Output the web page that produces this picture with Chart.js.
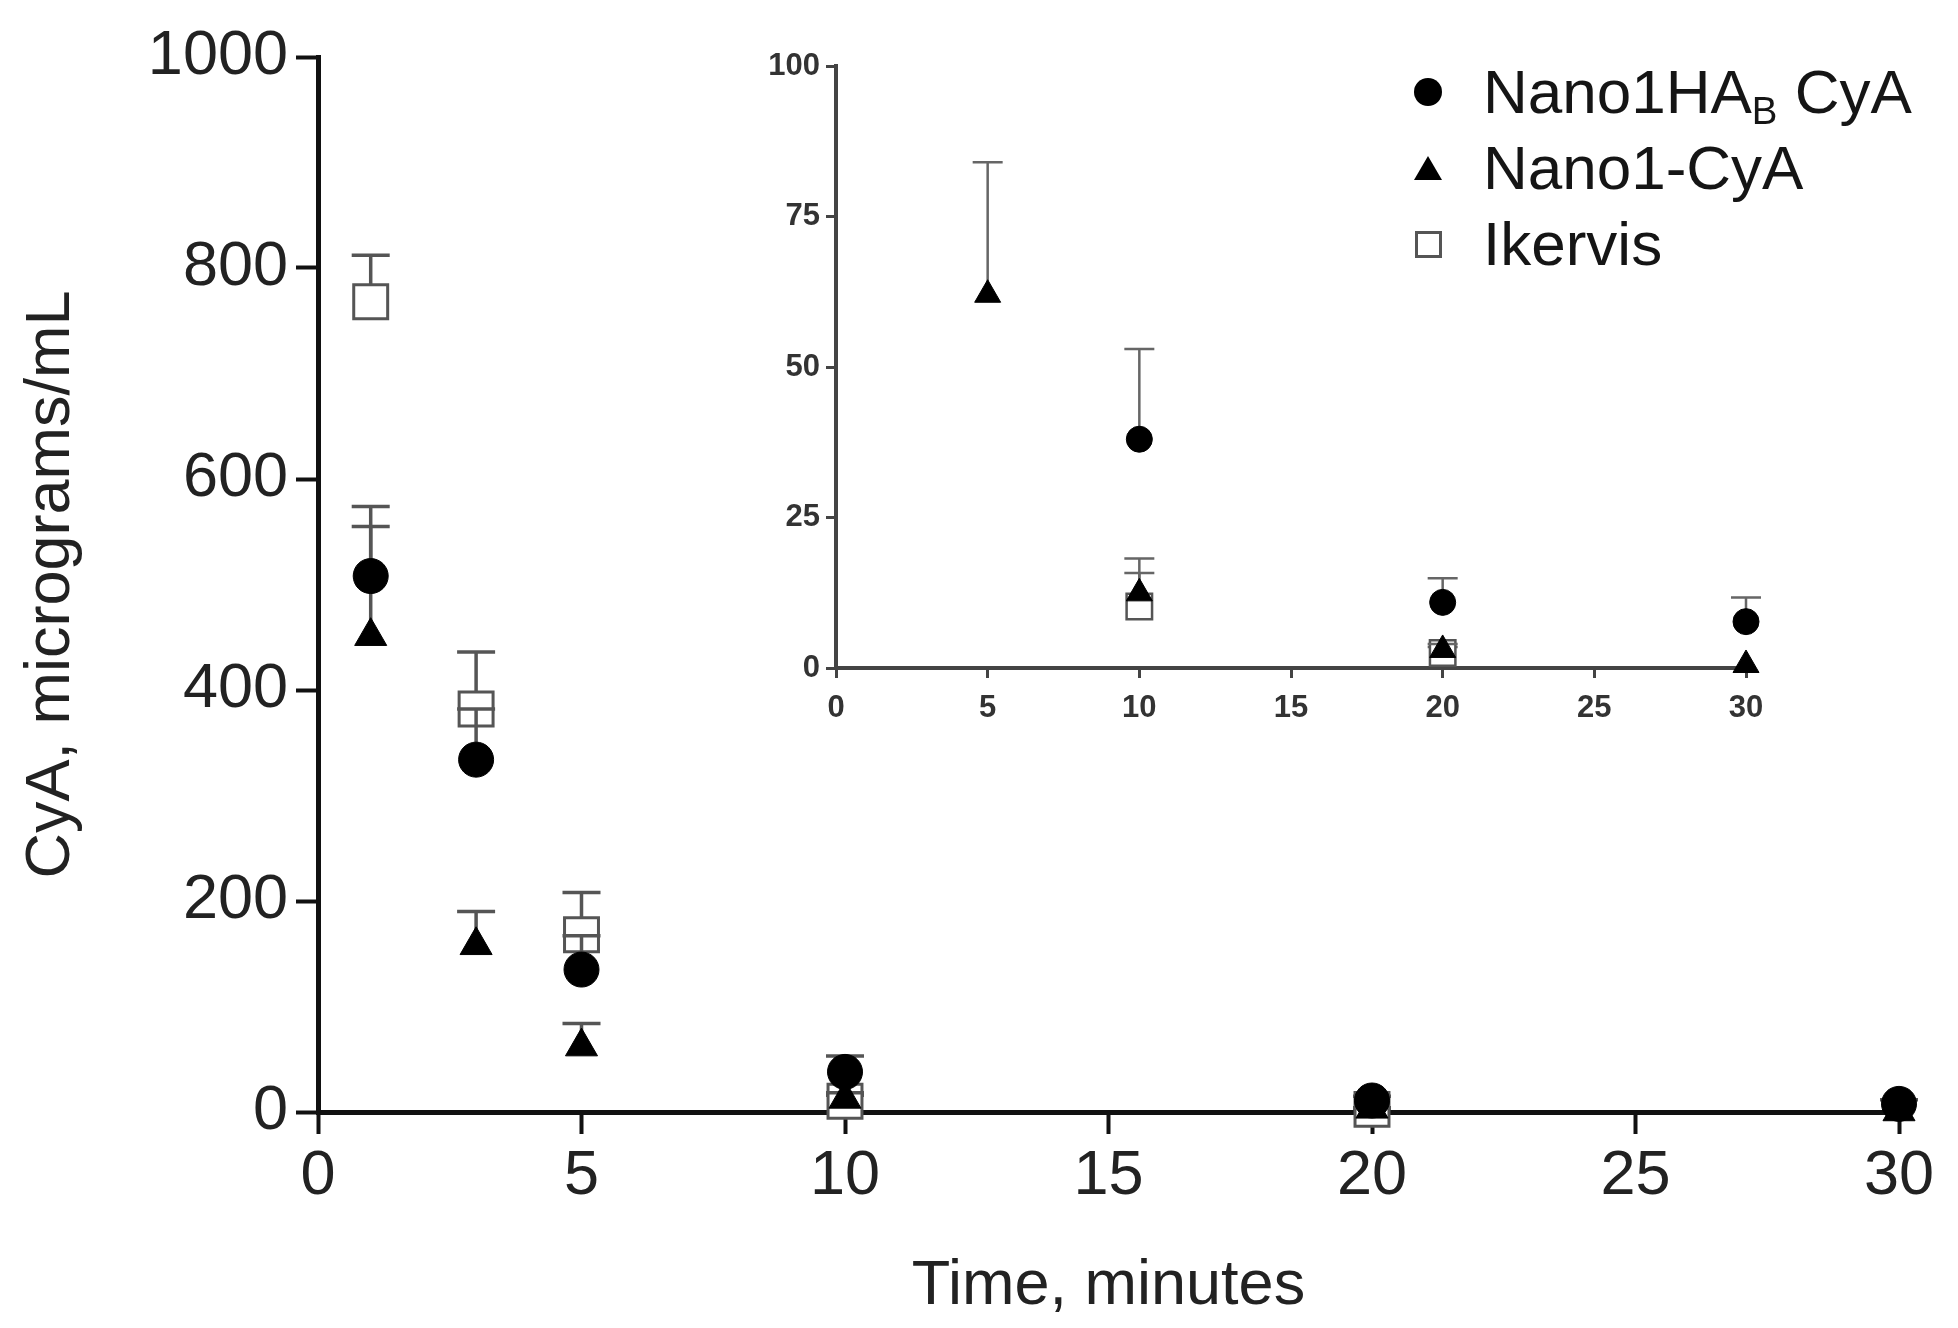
<!DOCTYPE html>
<html>
<head>
    <title>CyA release</title>
    <script src="https://cdn.jsdelivr.net/npm/chart.js"></script>
    <style>
        body {
            margin: 0;
            background-color: #ffffff;
            overflow: hidden;
        }

        #wrap {
            position: relative;
            width: 1958px;
            height: 1328px;
        }

        #mainChart {
            position: absolute;
            left: 0;
            top: 0;
        }

        #insetChart {
            position: absolute;
            left: 730px;
            top: 0;
        }

        #legend {
            position: absolute;
            left: 1400px;
            top: 54px;
            font-family: "Liberation Sans", Arial, sans-serif;
            font-size: 62px;
            color: #151515;
        }

        .row {
            display: flex;
            align-items: center;
            height: 76px;
            line-height: 1;
        }

        .mark {
            width: 56px;
            display: flex;
            justify-content: center;
            margin-right: 27px;
        }

        .circle { width: 28px; height: 28px; border-radius: 50%; background: #000; }
        .triangle { width: 0; height: 0; border-left: 14px solid transparent; border-right: 14px solid transparent; border-bottom: 24px solid #000; }
        .square { width: 21px; height: 21px; border: 3px solid #555; background: #fff; }

        sub {
            font-size: 0.62em;
            vertical-align: -0.28em;
            line-height: 0;
        }
    </style>
</head>
<body>
    <div id="wrap">
        <canvas id="mainChart" width="1958" height="1328"></canvas>
        <canvas id="insetChart" width="1060" height="760"></canvas>
        <div id="legend"></div>
    </div>

    <script>
        // time points (minutes)
        var times = [1, 3, 5, 10, 20, 30];

        // series names (_{..} = subscript) and marker shapes
        var seriesNames = ['Nano1HA_{B} CyA', 'Nano1-CyA', 'Ikervis'];
        var seriesShapes = ['circle', 'triangle', 'square'];

        // mean values, micrograms/mL
        var nanoHAB = [508, 334, 135, 38, 10.9, 7.7];
        var nano1 = [451, 158, 62, 12.4, 3, 0.5];
        var ikervis = [768, 382, 168, 10.2, 2.5, null];

        // upper error bars (SD)
        var nanoHABErr = [66, 48, 32, 15, 4, 4];
        var nano1Err = [104, 32, 22, 5.8, 1, 0];
        var ikervisErr = [44, 54, 40, 5.6, 1, null];

        var mainYTicks = [0, 200, 400, 600, 800, 1000];
        var insetYTicks = [0, 25, 50, 75, 100];
        var xTicks = [0, 5, 10, 15, 20, 25, 30];

        var fontFamily = '"Liberation Sans", Arial, sans-serif';

        function points(values) {
            return times.map(function (t, i) {
                return { x: t, y: values[i] };
            });
        }

        function plainLabel(value) {
            return String(value);
        }

        function makeDatasets(sz) {
            return [
                {
                    label: 'Nano1HAB CyA',
                    data: points(nanoHAB),
                    errors: nanoHABErr,
                    pointStyle: 'circle',
                    pointRadius: sz.circle,
                    backgroundColor: '#000',
                    borderColor: '#000',
                    borderWidth: 1
                },
                {
                    label: 'Nano1-CyA',
                    data: points(nano1),
                    errors: nano1Err,
                    pointStyle: 'triangle',
                    pointRadius: sz.triangle,
                    backgroundColor: '#000',
                    borderColor: '#000',
                    borderWidth: 1
                },
                {
                    label: 'Ikervis',
                    data: points(ikervis),
                    errors: ikervisErr,
                    pointStyle: 'rect',
                    pointRadius: sz.rect,
                    backgroundColor: '#fff',
                    borderColor: '#555',
                    borderWidth: sz.rectBorder
                }
            ];
        }

        // upward-only error bars, drawn just before each dataset's own markers
        var errorBars = {
            id: 'errorBars',
            beforeDatasetDraw: function (chart, args, opts) {
                var ds = chart.data.datasets[args.index];
                if (!ds.errors) return;
                var xs = chart.scales.x, ys = chart.scales.y, ctx = chart.ctx;
                ctx.save();
                ctx.strokeStyle = opts.color;
                ctx.lineWidth = opts.width;
                ds.data.forEach(function (p, i) {
                    var e = ds.errors[i];
                    if (p.y == null || e == null || e <= 0 || p.y > ys.max) return;
                    var top = Math.min(p.y + e, ys.max);
                    var px = xs.getPixelForValue(p.x);
                    var py0 = ys.getPixelForValue(p.y);
                    var py1 = ys.getPixelForValue(top);
                    ctx.beginPath();
                    ctx.moveTo(px, py0);
                    ctx.lineTo(px, py1);
                    if (p.y + e <= ys.max) {
                        ctx.moveTo(px - opts.cap, py1);
                        ctx.lineTo(px + opts.cap, py1);
                    }
                    ctx.stroke();
                });
                ctx.restore();
            }
        };

        var mainChart = new Chart(document.getElementById('mainChart').getContext('2d'), {
            type: 'scatter',
            data: { datasets: makeDatasets({ circle: 17.5, triangle: 18.5, rect: 24, rectBorder: 3 }) },
            plugins: [errorBars],
            options: {
                responsive: false,
                animation: false,
                events: [],
                clip: false,
                layout: { padding: { left: 0, top: 57, right: 59, bottom: 0 } },
                plugins: {
                    legend: { display: false },
                    tooltip: { enabled: false },
                    errorBars: { color: '#555', width: 3.5, cap: 19 }
                },
                scales: {
                    x: {
                        type: 'linear',
                        min: 0,
                        max: 30,
                        afterBuildTicks: function (s) { s.ticks = xTicks.map(function (v) { return { value: v }; }); },
                        ticks: { color: '#222', font: { family: fontFamily, size: 63 }, padding: 5, callback: plainLabel },
                        grid: { drawOnChartArea: false, drawTicks: true, tickLength: 22, tickWidth: 4, tickColor: '#111' },
                        border: { display: true, width: 5, color: '#111' },
                        title: { display: true, text: 'Time, minutes', color: '#222', font: { family: fontFamily, size: 63 }, padding: { top: 0, bottom: 4 } },
                        afterFit: function (s) { s.height = 216; }
                    },
                    y: {
                        type: 'linear',
                        min: 0,
                        max: 1000,
                        afterBuildTicks: function (s) { s.ticks = mainYTicks.map(function (v) { return { value: v }; }); },
                        ticks: { color: '#222', font: { family: fontFamily, size: 63 }, padding: 8, callback: plainLabel },
                        grid: { drawOnChartArea: false, drawTicks: true, tickLength: 22, tickWidth: 4, tickColor: '#111' },
                        border: { display: true, width: 5, color: '#111' },
                        title: { display: true, text: 'CyA, micrograms/mL', color: '#222', font: { family: fontFamily, size: 63 }, padding: { top: 14, bottom: 0 } },
                        afterFit: function (s) { s.width = 318; }
                    }
                }
            }
        });

        var insetChart = new Chart(document.getElementById('insetChart').getContext('2d'), {
            type: 'scatter',
            data: { datasets: makeDatasets({ circle: 13, triangle: 15, rect: 18, rectBorder: 2.5 }) },
            plugins: [errorBars],
            options: {
                responsive: false,
                animation: false,
                events: [],
                clip: { left: 30, right: 30, top: 0, bottom: 30 },
                layout: { padding: { left: 0, top: 66, right: 44, bottom: 0 } },
                plugins: {
                    legend: { display: false },
                    tooltip: { enabled: false },
                    errorBars: { color: '#666', width: 2.5, cap: 15 }
                },
                scales: {
                    x: {
                        type: 'linear',
                        min: 0,
                        max: 30,
                        afterBuildTicks: function (s) { s.ticks = xTicks.map(function (v) { return { value: v }; }); },
                        ticks: { color: '#333', font: { family: fontFamily, size: 31, weight: 'bold' }, padding: 12, callback: plainLabel },
                        grid: { drawOnChartArea: false, drawTicks: true, tickLength: 10, tickWidth: 3, tickColor: '#444' },
                        border: { display: true, width: 4, color: '#444' },
                        afterFit: function (s) { s.height = 92; }
                    },
                    y: {
                        type: 'linear',
                        min: 0,
                        max: 100,
                        afterBuildTicks: function (s) { s.ticks = insetYTicks.map(function (v) { return { value: v }; }); },
                        ticks: { color: '#333', font: { family: fontFamily, size: 31, weight: 'bold' }, padding: 6, callback: plainLabel },
                        grid: { drawOnChartArea: false, drawTicks: true, tickLength: 10, tickWidth: 3, tickColor: '#444' },
                        border: { display: true, width: 4, color: '#444' },
                        afterFit: function (s) { s.width = 106; }
                    }
                }
            }
        });

        // legend as html so the subscript stays real text
        var legend = document.getElementById('legend');
        seriesNames.forEach(function (name, i) {
            var row = document.createElement('div');
            row.className = 'row';
            var mark = document.createElement('div');
            mark.className = 'mark';
            var shape = document.createElement('div');
            shape.className = seriesShapes[i];
            mark.appendChild(shape);
            var text = document.createElement('span');
            text.innerHTML = name.replace(/_\{(.*?)\}/, '<sub>$1</sub>');
            row.appendChild(mark);
            row.appendChild(text);
            legend.appendChild(row);
        });
    </script>
</body>
</html>
